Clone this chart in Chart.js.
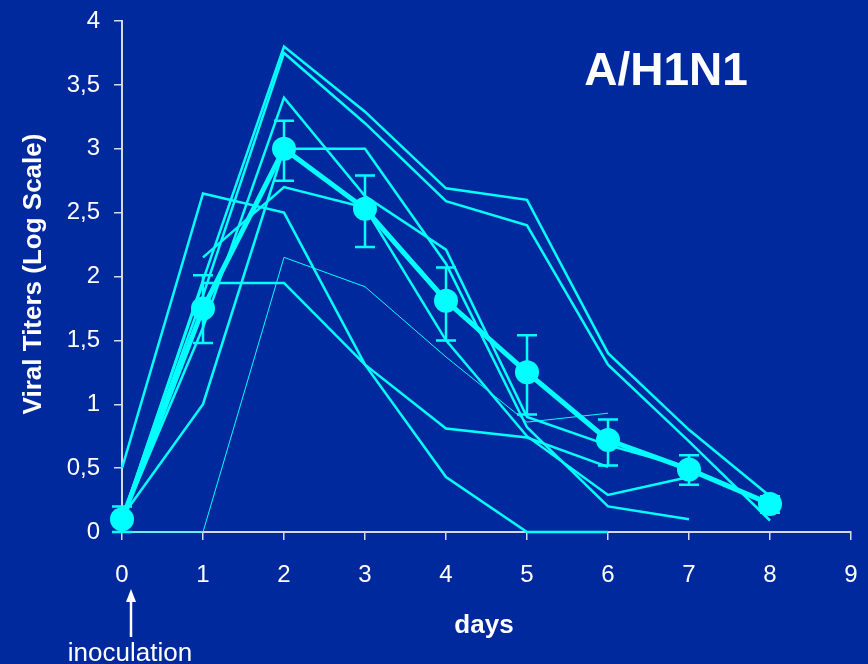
<!DOCTYPE html>
<html>
<head>
<meta charset="utf-8">
<script src="https://cdn.jsdelivr.net/npm/chart.js@4.4.1/dist/chart.umd.min.js"></script>
<style>
  html, body { margin: 0; padding: 0; background: #00299E; }
  #wrap { width: 868px; height: 664px; }
</style>
</head>
<body>
<div id="wrap"><canvas id="c" width="868" height="664"></canvas></div>
<script>
// ---- data ----
const days = [0, 1, 2, 3, 4, 5, 6, 7, 8];
const meanTiter = [0.1, 1.75, 3.0, 2.53, 1.81, 1.25, 0.72, 0.49, 0.22];
const errHigh   = [0.2, 2.01, 3.22, 2.79, 2.07, 1.54, 0.88, 0.60, 0.28];
const errLow    = [0.0, 1.48, 2.75, 2.23, 1.50, 0.92, 0.52, 0.37, 0.15];
const animalA = [0.1, 1.97, 3.8, 3.29, 2.69, 2.6, 1.4, 0.8, 0.28];
const animalB = [0.1, 1.85, 3.75, 3.2, 2.59, 2.4, 1.31, 0.71, 0.09];
const animalC = [0.1, 1.6, 3.4, 2.63, 2.21, 0.9, 0.68, 0.5, null];
const animalD = [0.12, 1.0, 3.0, 3.0, 2.1, 0.82, 0.2, 0.1, null];
const animalE = [0.5, 2.65, 2.5, 1.31, 0.43, 0.0, 0.0, null, null];
const animalG = [null, 2.15, 2.7, 2.54, 1.5, 0.75, 0.29, 0.43, null];
const animalH = [0.0, 0.0, 2.15, 1.92, 1.37, 0.86, 0.93, null, null];
const animalI = [0.1, 1.95, 1.95, 1.31, 0.81, 0.74, 0.51, null, null];
const yTicks = [0, 0.5, 1, 1.5, 2, 2.5, 3, 3.5, 4];
const xTicks = [0, 1, 2, 3, 4, 5, 6, 7, 8, 9];
const titleText = "A/H1N1";
const yTitle = "Viral Titers (Log Scale)";
const xTitle = "days";
const noteText = "inoculation";

const CYAN = '#00FFFF';
const BG = '#00299E';
const AXIS = '#D8D8EC';
const FONT = '"Liberation Sans", Arial, Helvetica, sans-serif';

function pts(arr) {
  return days.map((d, i) => ({ x: d, y: arr[i] })).filter(p => p.y !== null && p.y !== undefined);
}
function animal(arr, w) {
  return { data: pts(arr), borderColor: CYAN, borderWidth: w, pointRadius: 0, pointHoverRadius: 0,
           fill: false, tension: 0, clip: false };
}
function noPad(s) { s.paddingTop = 0; s.paddingBottom = 0; s.paddingLeft = 0; s.paddingRight = 0; }

const bgPlugin = {
  id: 'bg',
  beforeDraw(chart) {
    const ctx = chart.ctx;
    ctx.save();
    ctx.fillStyle = BG;
    ctx.fillRect(0, 0, chart.width, chart.height);
    ctx.restore();
  }
};

const errPlugin = {
  id: 'errbars',
  afterDatasetsDraw(chart) {
    const ctx = chart.ctx, xs = chart.scales.x, ys = chart.scales.y;
    ctx.save();
    ctx.strokeStyle = CYAN;
    ctx.lineWidth = 2.5;
    days.forEach((d, i) => {
      const x = xs.getPixelForValue(d);
      const yt = ys.getPixelForValue(errHigh[i]);
      const yb = ys.getPixelForValue(errLow[i]);
      ctx.beginPath();
      ctx.moveTo(x, yt); ctx.lineTo(x, yb);
      ctx.moveTo(x - 10, yt); ctx.lineTo(x + 10, yt);
      ctx.moveTo(x - 10, yb); ctx.lineTo(x + 10, yb);
      ctx.stroke();
    });
    ctx.restore();
  }
};

const textPlugin = {
  id: 'texts',
  afterDraw(chart) {
    const ctx = chart.ctx, xs = chart.scales.x;
    ctx.save();
    ctx.fillStyle = '#FFFFFF';
    ctx.font = 'bold 46px ' + FONT;
    ctx.textAlign = 'center';
    ctx.textBaseline = 'alphabetic';
    ctx.fillText(titleText, 666, 85);
    ctx.font = 'bold 26px ' + FONT;
    ctx.fillText(xTitle, 484, 633);
    ctx.save();
    ctx.translate(41, 274);
    ctx.rotate(-Math.PI / 2);
    ctx.font = 'bold 26px ' + FONT;
    ctx.textAlign = 'center';
    ctx.textBaseline = 'alphabetic';
    ctx.fillText(yTitle, 0, 0);
    ctx.restore();
    ctx.font = '26px ' + FONT;
    ctx.fillText(noteText, 130, 661);
    const ax = xs.getPixelForValue(0) + 9;
    ctx.strokeStyle = '#FFFFFF';
    ctx.lineWidth = 2.5;
    ctx.beginPath();
    ctx.moveTo(ax, 637); ctx.lineTo(ax, 600);
    ctx.stroke();
    ctx.beginPath();
    ctx.moveTo(ax, 589); ctx.lineTo(ax - 5, 602); ctx.lineTo(ax + 5, 602); ctx.closePath();
    ctx.fill();
    ctx.restore();
  }
};

const fmt = v => String(v).replace('.', ',');

new Chart(document.getElementById('c'), {
  type: 'line',
  data: {
    datasets: [
      animal(animalA, 2.5),
      animal(animalB, 2.5),
      animal(animalC, 2.5),
      animal(animalD, 2.5),
      animal(animalE, 2.5),
      animal(animalG, 2.5),
      animal(animalH, 1),
      animal(animalI, 2.5),
      { data: pts(meanTiter), borderColor: CYAN, backgroundColor: CYAN, borderWidth: 5,
        pointRadius: 12, pointBackgroundColor: CYAN, pointBorderColor: CYAN, pointBorderWidth: 0,
        fill: false, tension: 0, clip: false }
    ]
  },
  options: {
    responsive: false,
    animation: false,
    devicePixelRatio: 1,
    layout: { padding: { top: 21, right: 17, left: 0, bottom: 0 } },
    plugins: { legend: { display: false }, tooltip: { enabled: false } },
    scales: {
      x: {
        type: 'linear', min: 0, max: 9,
        afterBuildTicks(s) { s.ticks = xTicks.map(v => ({ value: v })); },
        afterFit(s) { s.height = 132; noPad(s); },
        ticks: { color: '#FFFFFF', font: { family: FONT, size: 24 }, padding: 21, callback: v => fmt(v), maxRotation: 0, autoSkip: false },
        grid: { display: true, drawOnChartArea: false, drawTicks: true, tickLength: 8, color: AXIS, lineWidth: 1.5 },
        border: { display: true, color: AXIS, width: 2 }
      },
      y: {
        type: 'linear', min: 0, max: 4,
        afterBuildTicks(s) { s.ticks = yTicks.map(v => ({ value: v })); },
        afterFit(s) { s.width = 122; noPad(s); },
        ticks: { color: '#FFFFFF', font: { family: FONT, size: 24 }, padding: 14, callback: v => fmt(v), autoSkip: false },
        grid: { display: true, drawOnChartArea: false, drawTicks: true, tickLength: 8, color: AXIS, lineWidth: 1.5 },
        border: { display: true, color: AXIS, width: 2 }
      }
    }
  },
  plugins: [bgPlugin, errPlugin, textPlugin]
});
</script>
</body>
</html>
